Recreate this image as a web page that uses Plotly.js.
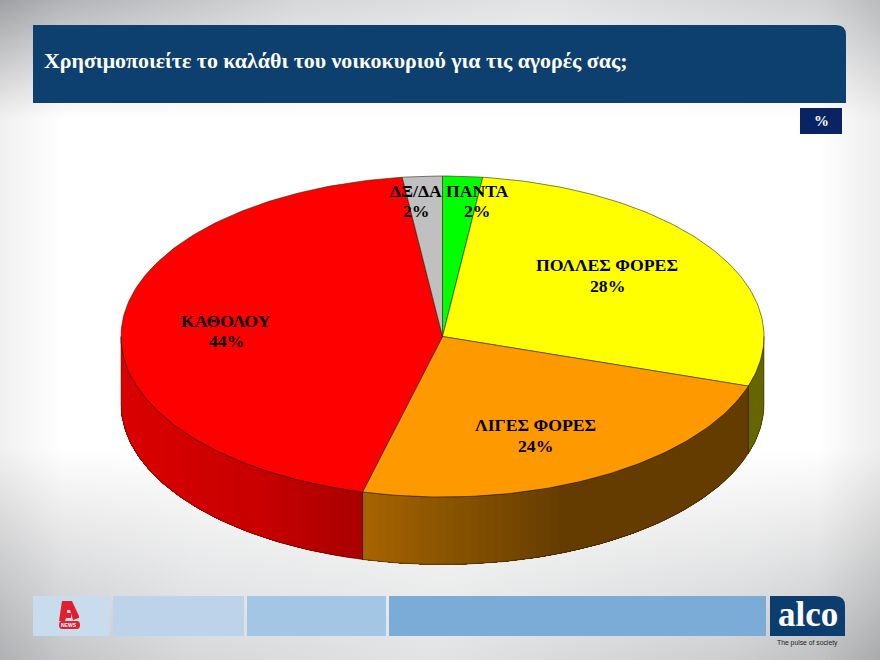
<!DOCTYPE html>
<html><head><meta charset="utf-8">
<script src="https://cdn.plot.ly/plotly-3.0.1.min.js"></script>
<style>
html,body{margin:0;padding:0;width:880px;height:660px;overflow:hidden}
body{background:
 linear-gradient(90deg,rgba(0,0,0,.06) 0,rgba(0,0,0,0) 7%,rgba(0,0,0,0) 93%,rgba(0,0,0,.07) 100%),
 linear-gradient(180deg,rgba(255,255,255,0) 0,rgba(255,255,255,1) 18%,rgba(255,255,255,1) 68%,rgba(255,255,255,0) 100%),
 linear-gradient(100deg,#a9aaad 0%,#d6d7d9 30%,#e2e3e4 55%,#cdced0 85%,#b6b7b9 100%);}
#chart{width:880px;height:660px}
</style></head><body><div id="chart"></div>
<script>
const categories = ["ΠΑΝΤΑ","ΠΟΛΛΕΣ ΦΟΡΕΣ","ΛΙΓΕΣ ΦΟΡΕΣ","ΚΑΘΟΛΟΥ","ΔΞ/ΔΑ"];
const values = [2,28,24,44,2];
const sliceColors = ["#00ff00","#ffff00","#ff9900","#ff0000","#c0c0c0"];
const chartTitle = "Χρησιμοποιείτε το καλάθι του νοικοκυριού για τις αγορές σας;";
const unitLabel = "%";

const CX=442.5, CY=336.5, RX=321.5, RY=160.5, DEPTH=67.5;
const labelPos = [[477,191,211],[607,265,286],[535,425,446],[226,321,341],[416,191,211]];
const shadeBySlice = {
  1:[[700,102,102,0],[770,102,102,0]],
  2:[[362,168,100,0],[470,130,80,0],[565,100,60,0],[760,100,60,0]],
  3:[[121,218,0,0],[260,200,0,0],[362,168,0,0]]
};
function shade(stops,x){
  if(x<=stops[0][0]) return stops[0].slice(1);
  for(let i=1;i<stops.length;i++){
    if(x<=stops[i][0]){
      const t=(x-stops[i-1][0])/(stops[i][0]-stops[i-1][0]);
      return [1,2,3].map(k=>stops[i-1][k]+t*(stops[i][k]-stops[i-1][k]));
    }
  }
  return stops[stops.length-1].slice(1);
}
const px=a=>CX+RX*Math.sin(a*Math.PI/180);
const py=a=>CY-RY*Math.cos(a*Math.PI/180);
function arc(a0,a1,off){
  const n=Math.max(2,Math.ceil(Math.abs(a1-a0))),xs=[],ys=[];
  for(let i=0;i<=n;i++){const a=a0+(a1-a0)*i/n;xs.push(px(a));ys.push(py(a)+off);}
  return [xs,ys];
}
const total=values.reduce((a,b)=>a+b,0);
const traces=[];
const poly=(xs,ys,fill,line,w)=>traces.push({type:"scatter",mode:"lines",x:xs,y:ys,fill:"toself",fillcolor:fill,
  line:{color:line,width:w},hoverinfo:"skip",showlegend:false});
let cum=0; const spans=values.map(v=>{const s=[cum/total*360,(cum+v)/total*360];cum+=v;return s;});

// side walls: painter's order, each strip reaches the slice end so no seams appear
spans.forEach((sp,i)=>{
  const a0=Math.max(sp[0],90),a1=Math.min(sp[1],270);
  if(a1<=a0) return;
  const n=Math.ceil((a1-a0)/1.5);
  for(let k=0;k<n;k++){
    const s=a0+(a1-a0)*k/n;
    const [xt,yt]=arc(s,a1,0),[xb,yb]=arc(a1,s,DEPTH);
    const c=shade(shadeBySlice[i],px(s+(a1-a0)/n/2)).map(Math.round);
    const col=`rgb(${c[0]},${c[1]},${c[2]})`;
    poly(xt.concat(xb),yt.concat(yb),col,col,0);
  }
  const [xt,yt]=arc(a0,a1,0),[xb,yb]=arc(a1,a0,DEPTH);
  traces.push({type:"scatter",mode:"lines",x:xt.concat(xb,[xt[0]]),y:yt.concat(yb,[yt[0]]),
    line:{color:"rgba(40,25,0,0.7)",width:0.7},hoverinfo:"skip",showlegend:false});
});
// top faces
spans.forEach((sp,i)=>{
  const [x,y]=arc(sp[0],sp[1],0);
  poly([CX].concat(x,[CX]),[CY].concat(y,[CY]),sliceColors[i],"rgba(30,30,0,0.8)",0.7);
});

const A=(text,x,y,size,extra)=>Object.assign({text,x,y,xref:"x",yref:"y",showarrow:false,xanchor:"center",yanchor:"middle",
  font:{family:"Liberation Serif",size,color:"#000"}},extra||{});
const annotations=[];
categories.forEach((c,i)=>{
  annotations.push(A(`<b>${c}</b>`,labelPos[i][0],labelPos[i][1],17.7,{}));
  annotations.push(A(`<b>${values[i]}%</b>`,labelPos[i][0],labelPos[i][2],17.7,{}));
});
annotations.push(A(`<b>${chartTitle}</b>`,42,60,21.9,{xanchor:"left",font:{family:"Liberation Serif",size:21.9,color:"#fff"}}));
annotations.push(A(`<b>${unitLabel}</b>`,821,121,15,{font:{family:"Liberation Serif",size:15,color:"#fff"}}));
annotations.push(A(`<b>alco</b>`,807.5,614,35,{font:{family:"Liberation Serif",size:35,color:"#fff"}}));
annotations.push(A(`The pulse of society`,807.5,643,6.8,{font:{family:"Liberation Sans",size:6.8,color:"#222"}}));
annotations.push(A(`<b>NEWS</b>`,69,625,5,{font:{family:"Liberation Sans",size:5,color:"#fff"}}));

const R=(x0,y0,x1,y1,c)=>({type:"rect",xref:"x",yref:"y",x0,y0,x1,y1,fillcolor:c,line:{width:0},layer:"below"});
const P=(path,c)=>({type:"path",xref:"x",yref:"y",path,fillcolor:c,line:{width:0},layer:"below"});
const shapes=[
  P("M33,25 L836,25 Q846,25 846,35 L846,103 L33,103 Z","#0d3f6f"),
  R(800,108,842,134,"#0a2463"),
  R(33,596,110,636,"#c8dcee"),
  R(113,596,244,636,"#bdd3e9"),
  R(247,596,386,636,"#a3c6e5"),
  R(389,596,766,636,"#7aacd7"),
  P("M770,596 L835,596 Q845,596 845,606 L845,636 L770,636 Z","#0b3d6f"),
  P("M62,601 L72,601 L79,616 L79,618 L73,620 L70,610 L67,610 L67,613 L71,613 L71,618 L66,618 L65,621 L59,621 Z","#e1202f"),
  P("M62,621 L77,621 Q80,621 80,625 Q80,629 77,629 L62,629 Q59,629 59,625 Q59,621 62,621 Z","#e1202f")
];
Plotly.newPlot("chart",traces,{
  width:880,height:660,margin:{l:0,r:0,t:0,b:0},
  paper_bgcolor:"rgba(0,0,0,0)",plot_bgcolor:"rgba(0,0,0,0)",
  xaxis:{range:[0,880],visible:false,fixedrange:true},
  yaxis:{range:[660,0],visible:false,fixedrange:true},
  showlegend:false,shapes,annotations
},{displayModeBar:false,staticPlot:true});
</script></body></html>
